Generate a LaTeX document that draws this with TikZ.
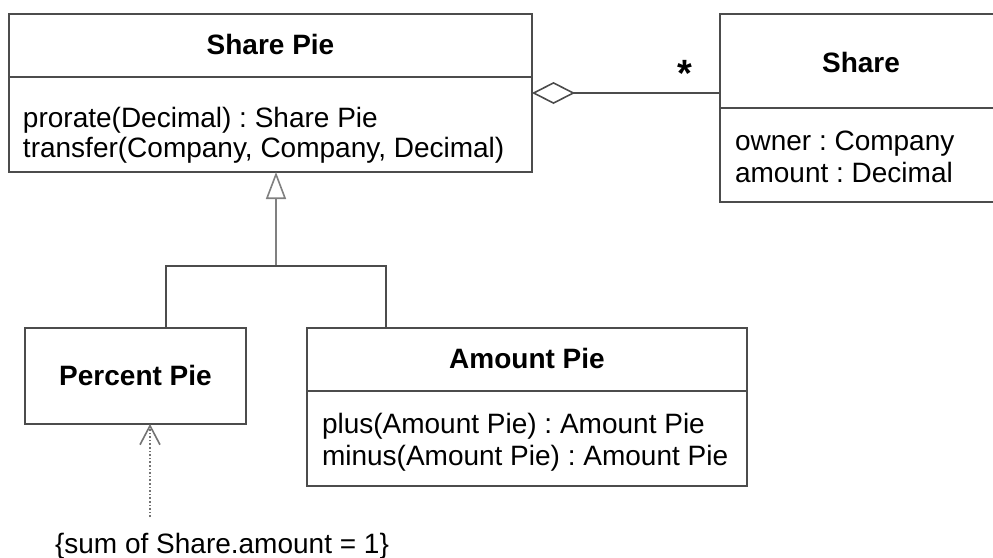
\documentclass[tikz,border=0pt]{standalone}
\usepackage{fontspec}
\setmainfont{Liberation Sans}
\usetikzlibrary{arrows.meta}
\frenchspacing
\begin{document}
\begin{tikzpicture}[x=0.5pt,y=-0.5pt,
  every node/.style={inner sep=0pt,outer sep=0pt,font=\fontsize{14}{15}\selectfont},
  classbox/.style={draw=black!70,line width=0.8pt,rectangle,anchor=north west},
  divider/.style={draw=black!70,line width=0.8pt},
  conn/.style={draw=black!70,line width=0.8pt},
  title/.style={font=\fontsize{14}{15}\selectfont\bfseries,anchor=base},
  member/.style={anchor=base west}]
\clip (0,0) rectangle (993,558);
\fill[white] (0,0) rectangle (993,558);
% Share Pie
\node[classbox,minimum width=261.5pt,minimum height=79pt] (sharepie) at (9,14) {};
\draw[divider] (9,77) -- (532,77);
\node[title] (sptitle) at (270.5,54) {Share Pie};
\node[member] (spop1) at (23,127) {prorate(Decimal) : Share Pie};
\node[member] (spop2) at (23,157) {transfer(Company, Company, Decimal)};
% Share
\node[classbox,minimum width=145pt,minimum height=94pt] (share) at (720,14) {};
\draw[divider] (720,108) -- (1010,108);
\node[title] (shtitle) at (861,72) {Share};
\node[member] (sha1) at (735,150) {owner : Company};
\node[member] (sha2) at (735,182) {amount : Decimal};
% Percent Pie
\node[classbox,minimum width=110.5pt,minimum height=48pt] (percent) at (25,328) {};
\node[title] (pptitle) at (135.5,385) {Percent Pie};
% Amount Pie
\node[classbox,minimum width=220pt,minimum height=79pt] (amount) at (307,328) {};
\draw[divider] (307,391) -- (747,391);
\node[title] (aptitle) at (527,368) {Amount Pie};
\node[member] (apop1) at (322,433) {plus(Amount Pie) : Amount Pie};
\node[member] (apop2) at (322,465) {minus(Amount Pie) : Amount Pie};
% constraint
\node[anchor=base] (constraint) at (222,553) {\{sum of Share.amount = 1\}};
% aggregation
\coordinate (aggy) at (0,93);
\draw[conn,-{Diamond[open,length=21.5pt,width=11pt,fill=white]}] (share.west |- aggy) -- (sharepie.east |- aggy);
\node[font=\fontsize{19}{20}\selectfont\bfseries,anchor=base] (mult) at (685,86) {*};
% generalization
\coordinate (gen) at (276,266);
\coordinate (gl) at (166,266);
\coordinate (gr) at (386,266);
\draw[conn,draw=black!50,-{Triangle[open,length=13.5pt,width=10pt,fill=white]}] (gen) -- (gen |- sharepie.south);
\draw[conn] (percent.north -| gl) -- (gl) -- (gr) -- (amount.north -| gr);
% constraint dependency
\coordinate (dl) at (150,517);
\draw[conn,draw=black!55,densely dotted,-{Straight Barb[length=9.5pt,width=10pt]}] (dl) -- (percent.south -| dl);
\end{tikzpicture}
\end{document}
